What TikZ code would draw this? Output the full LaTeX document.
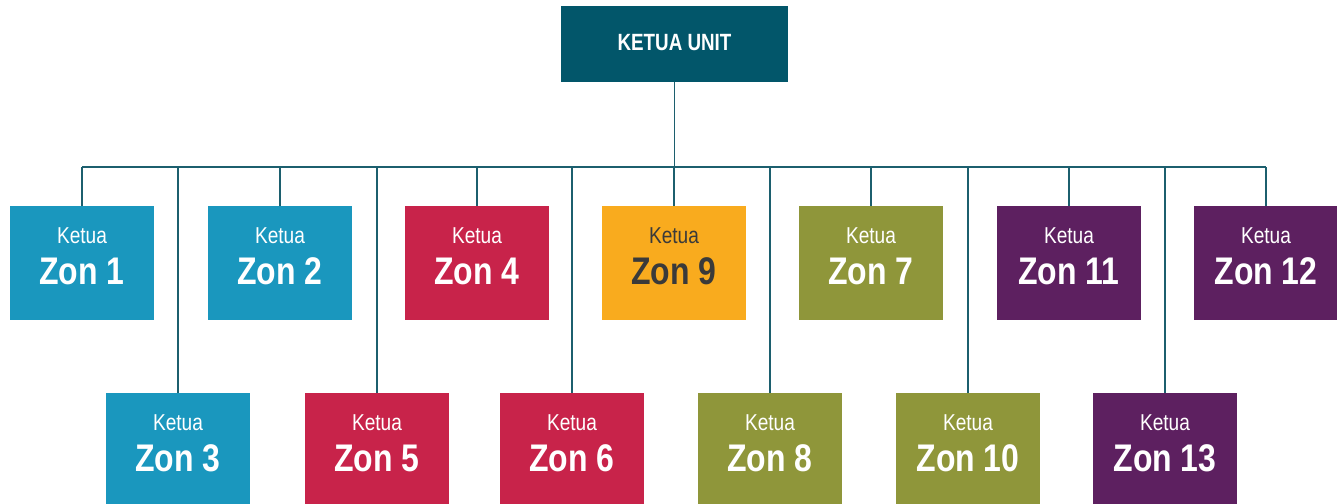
\documentclass[tikz,border=0pt]{standalone}
\usepackage{fontspec}
\setmainfont{Liberation Sans}
\newfontfamily\condfont[FakeStretch=0.83]{Liberation Sans}
\newfontfamily\unitfont[FakeStretch=0.8]{Liberation Sans}
\usetikzlibrary{calc}
\definecolor{cblue}{HTML}{1A97BE}
\definecolor{cred}{HTML}{C8234A}
\definecolor{corange}{HTML}{F9AB1E}
\definecolor{colive}{HTML}{8F963A}
\definecolor{cpurple}{HTML}{5D2060}
\definecolor{cunit}{HTML}{02566A}
\definecolor{cline}{HTML}{1C5F6E}
\definecolor{cdark}{HTML}{3A3A3A}
\tikzset{
  zonbox/.style={fill=#1, minimum width=144pt, minimum height=114pt, inner sep=0pt, outer sep=0pt},
  ketuatxt/.style={anchor=base, inner sep=0pt, text=#1, font=\condfont\fontsize{23}{25}\selectfont},
  zontxt/.style={anchor=base, inner sep=0pt, text=#1, font=\condfont\bfseries\fontsize{38.5}{40}\selectfont},
  conn/.style={draw=cline, line width=1.4pt},
}
\newcommand\zonnode[6]{%
  \node[zonbox=#4] (#1) at (#2,#3) {};
  \node[ketuatxt=#6] (#1k) at ($(#1.north)+(0,37)$) {Ketua};
  \node[zontxt=#6] (#1z) at ($(#1.north)+(0,78)$) {Zon #5};
}
\begin{document}
\begin{tikzpicture}[x=1pt,y=-1pt]
\useasboundingbox (0,0) rectangle (1337,503);
\node[fill=cunit, minimum width=227pt, minimum height=76pt, inner sep=0pt, outer sep=0pt] (unit) at (674.5,44) {};
\node[anchor=base, inner sep=0pt, text=white, font=\unitfont\bfseries\fontsize{23.5}{25}\selectfont] (unitt) at (674.5,51) {KETUA UNIT};
\coordinate (bar) at (674.5,167);
% top row
\zonnode{z1}{82}{263}{cblue}{1}{white}
\zonnode{z2}{280}{263}{cblue}{2}{white}
\zonnode{z4}{477}{263}{cred}{4}{white}
\zonnode{z9}{674}{263}{corange}{9}{cdark}
\zonnode{z7}{871}{263}{colive}{7}{white}
\zonnode{z11}{1069}{263}{cpurple}{11}{white}
\zonnode{z12}{1266}{263}{cpurple}{12}{white}
% bottom row
\zonnode{z3}{178}{450}{cblue}{3}{white}
\zonnode{z5}{377}{450}{cred}{5}{white}
\zonnode{z6}{572}{450}{cred}{6}{white}
\zonnode{z8}{770}{450}{colive}{8}{white}
\zonnode{z10}{968}{450}{colive}{10}{white}
\zonnode{z13}{1165}{450}{cpurple}{13}{white}
% connectors
\draw[conn] (unit.south) -- (unit.south |- bar);
\draw[conn] (z1.north |- bar) -- (z12.north |- bar);
\foreach \n in {z1,z2,z4,z9,z7,z11,z12,z3,z5,z6,z8,z10,z13}
  \draw[conn] (\n.north) -- (\n.north |- bar);
\end{tikzpicture}
\end{document}
